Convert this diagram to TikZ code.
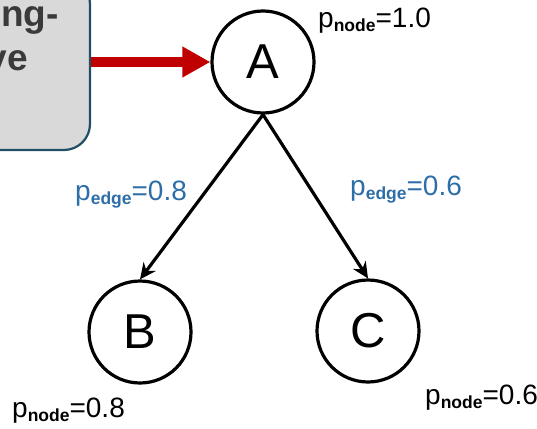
\documentclass[tikz,border=0pt]{standalone}
\usepackage{fontspec}
\setmainfont{Liberation Sans}
\usepackage{tikz}
\usetikzlibrary{arrows.meta}

\definecolor{boxfill}{HTML}{D9D9D9}
\definecolor{boxline}{HTML}{1F4E67}
\definecolor{boxtext}{HTML}{3A3A3A}
\definecolor{redarrow}{HTML}{C00000}
\definecolor{edgeblue}{HTML}{2E6EA8}

\newcommand{\plabel}[2]{p\raisebox{-4pt}{\fontsize{17.5}{17.5}\selectfont\bfseries #1}=#2}

\begin{document}
\begin{tikzpicture}[x=1pt, y=-1pt, line cap=round, line join=round,
	vertex/.style={circle, draw, line width=3.2pt, minimum size=102pt, inner sep=0pt, font=\fontsize{49}{49}\selectfont},
	prob/.style={anchor=base west, inner sep=0pt, font=\fontsize{28}{28}\selectfont},
	edgeprob/.style={prob, text=edgeblue},
	boxword/.style={anchor=base east, inner sep=0pt, text=boxtext, font=\fontsize{37}{37}\selectfont\bfseries},
	link/.style={line width=3.2pt, -{Stealth[length=16pt, width=15pt]}}]
				\useasboundingbox (0,0) rectangle (537,428);
				\clip (0,0) rectangle (537,428);
				
				% box on the left, cut off by the border
				\node[draw=boxline, fill=boxfill, line width=2.2pt, rounded corners=26pt,
					minimum width=160pt, minimum height=172pt, inner sep=0pt] (box) at (10,64) {};
				\node[boxword] (word1) at (59,27) {ng-};
				\node[boxword] (word2) at (28,70) {ve};
				
				\node[vertex] (A) at (263,62) {A};
				\node[vertex] (B) at (140,332) {B};
				\node[vertex] (C) at (368,331) {C};
				
				\draw[redarrow, line width=10pt, line cap=butt, -{Triangle[length=28pt, width=29pt]}]
					(box.east |- A.west) -- (A.west);
				
				\draw[link] (A.south) -- (B.north);
				\draw[link] (A.south) -- (C.north);
				
				\node[edgeprob] (eB) at (75,200) {\plabel{edge}{0.8}};
				\node[edgeprob] (eC) at (350,195) {\plabel{edge}{0.6}};
				
				\node[prob] (pA) at (318,28) {\plabel{node}{1.0}};
				\node[prob] (pB) at (12,417) {\plabel{node}{0.8}};
				\node[prob] (pC) at (425,404) {\plabel{node}{0.6}};
			\end{tikzpicture}
\end{document}
